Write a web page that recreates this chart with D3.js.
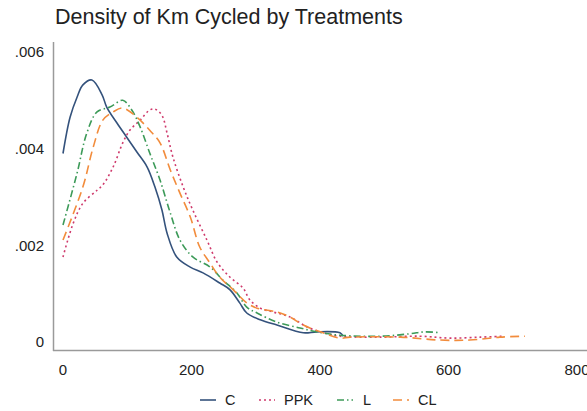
<!DOCTYPE html>
<html>
<head>
<meta charset="utf-8">
<script src="https://cdn.jsdelivr.net/npm/d3@7"></script>
<style>
  html, body { margin: 0; padding: 0; background: #fff; }
  svg { display: block; font-family: "Liberation Sans", Arial, sans-serif; }
</style>
</head>
<body>
<svg id="chart" width="587" height="411"></svg>
<script>
// density values: [km, density]
var seriesC = [
  [0, .0039], [11, .00465], [22, .00507], [31, .00532], [45, .00542], [61, .00511],
  [68, .00486], [84, .00453], [100, .00422], [115, .00393], [131, .00362], [143, .00321],
  [154, .00273], [162, .00225], [177, .00176], [198, .00155], [218, .00143], [244, .00122],
  [260, .00108], [275, .00081], [286, .0006], [307, .00046], [333, .00035], [374, .00019],
  [395, .00021], [431, .00019], [436, .00012]
];
var seriesPPK = [
  [0, .00176], [16, .00246], [31, .00287], [53, .00314], [62, .00325], [78, .00362],
  [93, .00412], [104, .00438], [120, .00459], [135, .0048], [143, .00482], [154, .00469],
  [162, .00432], [171, .00383], [187, .00321], [202, .00273], [224, .00211], [240, .00165],
  [260, .00134], [280, .00112], [291, .00087], [307, .0007], [327, .00062], [353, .00052],
  [380, .00031], [405, .00019], [431, .00012], [493, .0001], [556, .00012], [602, .00008],
  [649, .0001], [685, .00012]
];
var seriesL = [
  [0, .00242], [22, .0035], [37, .00432], [53, .00476], [73, .00486], [93, .005],
  [107, .0048], [120, .00445], [135, .00391], [151, .00335], [167, .00267], [182, .00211],
  [202, .00176], [229, .00155], [249, .00128], [271, .00101], [286, .00072], [302, .0006],
  [333, .00041], [369, .00029], [395, .00021], [431, .00014], [493, .00012], [540, .00017],
  [563, .00021], [587, .00019]
];
var seriesCL = [
  [0, .00211], [31, .00321], [47, .00403], [62, .00459], [78, .00476], [93, .00484],
  [115, .00465], [135, .00438], [151, .00412], [167, .00356], [182, .00308], [198, .00259],
  [213, .00196], [229, .00163], [244, .00134], [265, .00108], [286, .00081], [302, .0007],
  [333, .00062], [353, .00052], [374, .00035], [405, .00019], [431, .00008], [447, .0001],
  [525, .0001], [587, .00004], [633, .00004], [680, .0001], [719, .00012]
];

var seriesNames = ['C', 'PPK', 'L', 'CL'];
var xTicks = [0, 200, 400, 600, 800];
var yTicks = [0, .002, .004, .006];
var yTickLabels = ['0', '.002', '.004', '.006'];

var styles = {
  C   : { color: '#34527c', dash: null },
  PPK : { color: '#cf3a6c', dash: '2,3' },
  L   : { color: '#3c9a58', dash: '7,3,1.5,3' },
  CL  : { color: '#f28c3c', dash: '9,5' }
};

var svg = d3.select('#chart');

var x = d3.scaleLinear().domain([0, 800]).range([63, 577]),
    y = d3.scaleLinear().domain([0, .006]).range([342, 52]);

// title
svg.append('text')
  .attr('x', 55)
  .attr('y', 24)
  .attr('font-size', 21.5)
  .attr('fill', '#222')
  .text('Density of Km Cycled by Treatments');

// axis lines
svg.append('line')
  .attr('x1', 53.5).attr('x2', 53.5)
  .attr('y1', 42).attr('y2', 351)
  .attr('stroke', '#9a9a9a').attr('stroke-width', 1.5);
svg.append('line')
  .attr('x1', 53).attr('x2', 587)
  .attr('y1', 350.5).attr('y2', 350.5)
  .attr('stroke', '#9a9a9a').attr('stroke-width', 1.5);

// tick labels
svg.append('g').selectAll('text')
  .data(yTicks)
  .enter().append('text')
  .attr('x', 44)
  .attr('y', function( d ) { return y( d ); })
  .attr('dy', '0.35em')
  .attr('text-anchor', 'end')
  .attr('font-size', 15)
  .attr('fill', '#222')
  .text(function( d, i ) { return yTickLabels[ i ]; });

svg.append('g').selectAll('text')
  .data(xTicks)
  .enter().append('text')
  .attr('x', function( d ) { return x( d ); })
  .attr('y', 370)
  .attr('dy', '0.35em')
  .attr('text-anchor', 'middle')
  .attr('font-size', 15)
  .attr('fill', '#222')
  .text(function( d ) { return d; });

// curves
var line = d3.line()
  .x(function( d ) { return x( d[0] ); })
  .y(function( d ) { return y( d[1] ); })
  .curve(d3.curveCatmullRom.alpha(0.5));

var allSeries = [seriesC, seriesPPK, seriesL, seriesCL];

svg.append('g').selectAll('path')
  .data(allSeries)
  .enter().append('path')
  .attr('d', line)
  .attr('fill', 'none')
  .attr('stroke', function( d, i ) { return styles[ seriesNames[i] ].color; })
  .attr('stroke-width', 1.6)
  .attr('stroke-dasharray', function( d, i ) { return styles[ seriesNames[i] ].dash; });

// legend
var legendX = [200, 259, 337, 393],
    labelX  = [225, 284, 363, 418];

var legend = svg.append('g').selectAll('g')
  .data(seriesNames)
  .enter().append('g');

legend.append('line')
  .attr('x1', function( d, i ) { return legendX[i]; })
  .attr('x2', function( d, i ) { return legendX[i] + 16; })
  .attr('y1', 400).attr('y2', 400)
  .attr('stroke', function( d ) { return styles[d].color; })
  .attr('stroke-width', 1.6)
  .attr('stroke-dasharray', function( d ) { return styles[d].dash; });

legend.append('text')
  .attr('x', function( d, i ) { return labelX[i]; })
  .attr('y', 400)
  .attr('dy', '0.35em')
  .attr('font-size', 14.5)
  .attr('fill', '#222')
  .text(function( d ) { return d; });
</script>
</body>
</html>
